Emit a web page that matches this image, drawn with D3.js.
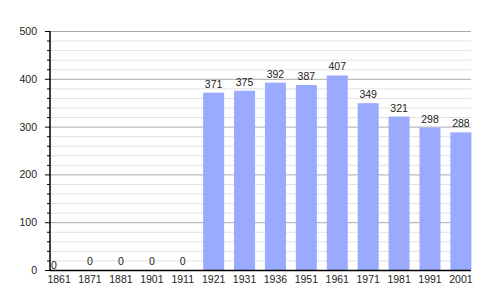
<!DOCTYPE html>
<html><head><meta charset="utf-8">
<script src="https://cdn.jsdelivr.net/npm/d3@7"></script>
<style>body{margin:0;background:#fff}svg{display:block}text{font-family:"Liberation Sans",Arial,sans-serif}</style>
</head><body>
<script>
const years = ["1861","1871","1881","1901","1911","1921","1931","1936","1951","1961","1971","1981","1991","2001"];
const population = [0,0,0,0,0,371,375,392,387,407,349,321,298,288];
const yMajorTicks = [0,100,200,300,400,500];

const W=500,H=300;
const axisX=50, plotR=471, y0=270, yTop=31;
const svg=d3.select("body").append("svg").attr("width",W).attr("height",H);
const x=d3.scaleBand().domain(years).range([48.6,471.4]).paddingInner(0.32).paddingOuter(0);
const y=d3.scaleLinear().domain([0,500]).range([y0,yTop]);

const minor=d3.range(0,501,20).filter(v=>v%100!==0);
svg.append("g").selectAll("line").data(minor).join("line")
  .attr("x1",axisX).attr("x2",plotR).attr("y1",d=>y(d)+0.5).attr("y2",d=>y(d)+0.5)
  .attr("stroke","#e2e2e2").attr("stroke-width",1);
svg.append("g").selectAll("line").data(yMajorTicks.filter(v=>v>0)).join("line")
  .attr("x1",axisX).attr("x2",plotR).attr("y1",d=>y(d)+0.5).attr("y2",d=>y(d)+0.5)
  .attr("stroke","#aaaaaa").attr("stroke-width",1);

svg.append("g").selectAll("rect").data(years).join("rect")
  .attr("x",d=>x(d)).attr("width",x.bandwidth())
  .attr("y",(d,i)=>y(population[i])).attr("height",(d,i)=>y0-y(population[i]))
  .attr("fill","#99aaff");

// y axis
const ya=svg.append("g").attr("transform",`translate(${axisX},0)`);
ya.selectAll("line.mt").data(d3.range(0,501,20)).join("line").attr("class","mt")
  .attr("x1",d=>d%100===0?-5:-3).attr("x2",0).attr("y1",d=>y(d)+0.5).attr("y2",d=>y(d)+0.5)
  .attr("stroke","#000");
ya.append("line").attr("x1",0).attr("x2",0).attr("y1",yTop).attr("y2",y0+1).attr("stroke","#000").attr("stroke-width",1.5);
ya.selectAll("text.yl").data(yMajorTicks).join("text").attr("class","yl")
  .attr("x",-13).attr("y",d=>y(d)+4).attr("text-anchor","end")
  .attr("font-size",10.5).attr("fill","#222").text(d=>d);

// x axis
svg.append("line").attr("x1",axisX).attr("x2",plotR).attr("y1",y0+0.5).attr("y2",y0+0.5).attr("stroke","#000").attr("stroke-width",1.5);
svg.append("g").selectAll("text").data(years).join("text")
  .attr("x",d=>x(d)+x.bandwidth()/2).attr("y",y0+12.5).attr("text-anchor","middle")
  .attr("font-size",10.5).attr("fill","#222").text(d=>d);

// value labels
svg.append("g").selectAll("text").data(years).join("text")
  .attr("x",(d,i)=>i===0?axisX+1:x(d)+x.bandwidth()/2)
  .attr("y",(d,i)=>i===0?y(population[i])-1:y(population[i])-5)
  .attr("text-anchor",(d,i)=>i===0?"start":"middle")
  .attr("font-size",10.5).attr("fill","#222").text((d,i)=>population[i]);
</script>
</body></html>
